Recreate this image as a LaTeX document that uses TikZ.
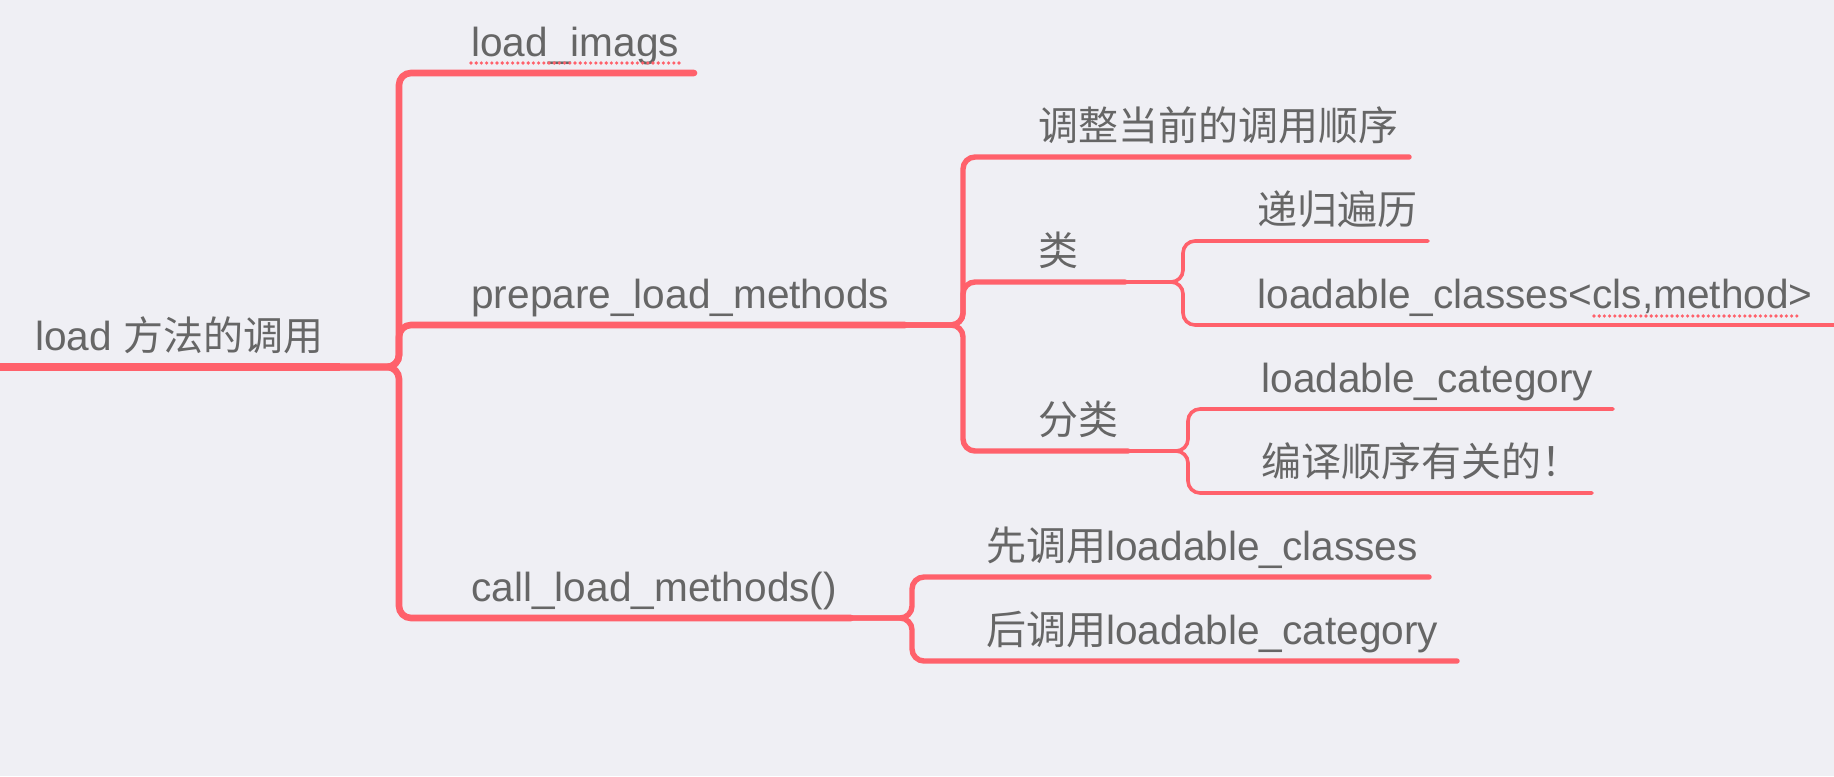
\documentclass[tikz,border=0pt]{standalone}
\usepackage{fontspec}
\setmainfont{Liberation Sans}
\newfontfamily\cjk[Scale=0.985]{Noto Sans CJK SC}

\tikzset{
  lbl/.style={anchor=base west, inner sep=0pt, text=cText, font=\fontsize{20.3}{24}\selectfont},
  rootline/.style={draw=cLine, line width=4pt},
  lvA/.style={draw=cLine, line width=3.3pt, line cap=round, rounded corners=6pt},
  lvB/.style={draw=cLine, line width=2.7pt, line cap=round, rounded corners=6pt},
  lvC/.style={draw=cLine, line width=1.8pt, line cap=round, rounded corners=6pt},
  spell/.style={draw=cLine, line width=1.8pt, line cap=round, dash pattern=on 0pt off 2.6pt},
}

\begin{document}
\begin{tikzpicture}[x=0.5pt, y=-0.5pt]

\definecolor{cLine}{HTML}{FF616B}
\definecolor{cText}{HTML}{666666}
\definecolor{cBg}{HTML}{EFEFF4}

%% Geometry: one unit is one pixel of the 1834 x 776 sketch, y runs down.
\useasboundingbox (0,0) rectangle (1834,776);
\fill[cBg] (0,0) rectangle (1834,776);

%% ---------- root ----------
\coordinate (root-s) at (0,367);
\coordinate (root-e) at (340,367);
\node[lbl] (root) at (35,350) {load {\cjk 方法的调用}};

%% ---------- branches: parent / name / bracket x / text x / line y / line end / level / text ----------
\foreach \up/\nm/\xb/\xt/\yy/\xe/\lv/\txt in {
  root/imags/399/471/73/694/lvA/load\_imags,
  root/prep/399/471/325/905/lvA/prepare\_load\_methods,
  root/call/399/471/618/851/lvA/call\_load\_methods(),
  prep/adj/963/1038/157/1409/lvB/{\cjk 调整当前的调用顺序},
  prep/cls/963/1038/282/1125/lvB/{\cjk 类},
  prep/cat/963/1038/451/1128/lvB/{\cjk 分类},
  cls/rec/1183/1257/241/1428/lvC/{\cjk 递归遍历},
  cls/lcls/1183/1257/325/1840/lvC/{loadable\_classes<cls,method>},
  cat/lcat/1188/1261/409/1613/lvC/loadable\_category,
  cat/order/1188/1261/493/1592/lvC/{\cjk 编译顺序有关的！},
  call/first/912/986/577/1429/lvB/{{\cjk 先调用}loadable\_classes},
  call/then/912/986/661/1457/lvB/{{\cjk 后调用}loadable\_category}} {
  \coordinate (\nm-s) at (\xb,\yy);
  \coordinate (\nm-e) at (\xe,\yy);
  \draw[\lv] (\up-e) -- (\up-e -| \nm-s) -- (\nm-s) -- (\nm-e);
  \node[lbl] (\nm) at (\xt,\yy-17) {\txt};
}

\draw[rootline] (root-s) -- (root-e);

%% ---------- spell-check marks ----------
\draw[spell] ([yshift=-3.5pt]imags.base west) -- ([yshift=-3.5pt]imags.base east);
\draw[spell] (1594,316) -- (1798,316);

\end{tikzpicture}
\end{document}
